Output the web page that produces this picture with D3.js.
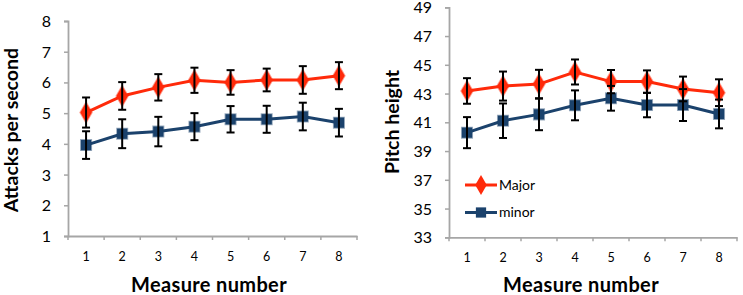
<!DOCTYPE html>
<html><head><meta charset="utf-8">
<script src="https://cdn.jsdelivr.net/npm/d3@7"></script>
<style>
html,body{margin:0;padding:0;background:#fff;}
svg{display:block;}
text{font-family:Lato,"Open Sans",sans-serif;fill:#000;}
</style></head>
<body>
<svg id="chart" width="743" height="295"></svg>
<script>
const measures = ["1","2","3","4","5","6","7","8"];
const seriesNames = ["Major","minor"];
// Left panel: attacks per second
const attacksMajor = [5.02,5.56,5.84,6.07,6.00,6.08,6.08,6.22];
const attacksMajorErr = [0.49,0.45,0.43,0.41,0.40,0.37,0.45,0.44];
const attacksMinor = [3.96,4.33,4.40,4.56,4.80,4.80,4.89,4.69];
const attacksMinorErr = [0.45,0.47,0.48,0.44,0.43,0.44,0.45,0.45];
const attacksTicks = [1,2,3,4,5,6,7,8];
// Right panel: pitch height
const pitchMajor = [43.18,43.52,43.66,44.50,43.83,43.83,43.32,43.06];
const pitchMajorErr = [0.89,1.01,0.99,0.87,0.81,0.78,0.86,0.93];
const pitchMinor = [40.28,41.11,41.55,42.18,42.67,42.20,42.20,41.58];
const pitchMinorErr = [1.08,1.20,1.10,1.04,0.86,0.85,1.11,1.00];
const pitchTicks = [33,35,37,39,41,43,45,47,49];

const colors = {Major:"#ff2a0a", minor:"#1b426c"};
const svg = d3.select("#chart");

function panel(opt){
  const g = svg.append("g");
  const x = d3.scaleBand().domain(measures).range([opt.x0, opt.x1]);
  const y = d3.scaleLinear().domain(opt.domain).range([opt.y1, opt.y0]);
  const axisColor = "#a6a6a6";
  // y axis
  const ya = g.append("g").attr("transform",`translate(${opt.x0},0)`)
    .call(d3.axisLeft(y).tickValues(opt.ticks).tickSize(4).tickPadding(13).tickFormat(d3.format("d")));
  ya.select(".domain").attr("stroke",axisColor).attr("stroke-width",1.8);
  ya.selectAll(".tick line").attr("stroke",axisColor).attr("stroke-width",1.5);
  ya.selectAll(".tick text").style("font-size","16px").style("font-family","Lato,sans-serif").attr("dy","0.34em");
  // x axis labels
  const xa = g.append("g").attr("transform",`translate(0,${opt.y1})`)
    .call(d3.axisBottom(x).tickSize(0).tickPadding(16));
  xa.select(".domain").attr("stroke",axisColor).attr("stroke-width",1.8);
  xa.selectAll(".tick text").style("font-size","12.5px").style("font-family","Lato,sans-serif");
  // x tick marks at band boundaries
  const bounds = measures.map(m=>x(m)).concat([x(measures[measures.length-1])+x.bandwidth()]);
  g.selectAll(".xb").data(bounds).join("line")
    .attr("x1",d=>d).attr("x2",d=>d).attr("y1",opt.y1).attr("y2",opt.y1+4)
    .attr("stroke",axisColor).attr("stroke-width",1.5);
  const cx = m => x(m)+x.bandwidth()/2;
  const series = [
    {name:"Major", vals:opt.major, err:opt.majorErr},
    {name:"minor", vals:opt.minor, err:opt.minorErr}
  ];
  // lines
  const line = d3.line().x((d,i)=>cx(measures[i])).y(d=>y(d));
  series.forEach(s=>{
    g.append("path").datum(s.vals).attr("d",line).attr("fill","none")
      .attr("stroke",colors[s.name]).attr("stroke-width",3);
  });
  // markers
  series.forEach(s=>{
    const sym = s.name==="Major" ? d3.symbolDiamond : d3.symbolSquare;
    const size = s.name==="Major" ? 115 : 105;
    g.selectAll(null).data(s.vals).join("path")
      .attr("transform",(d,i)=>`translate(${cx(measures[i])},${y(d)})`)
      .attr("d",d3.symbol().type(sym).size(size))
      .attr("fill",colors[s.name]).attr("stroke",colors[s.name]).attr("stroke-opacity",0.45).attr("stroke-width",1.8);
  });
  // error bars
  series.forEach(s=>{
    s.vals.forEach((v,i)=>{
      const px = cx(measures[i]);
      const t = y(v + s.err[i]), b = y(v - s.err[i]);
      g.append("line").attr("x1",px).attr("x2",px).attr("y1",t).attr("y2",b).attr("stroke","#000").attr("stroke-width",2);
      [t,b].forEach(yy=>g.append("line").attr("x1",px-4).attr("x2",px+4).attr("y1",yy).attr("y2",yy).attr("stroke","#000").attr("stroke-width",2));
    });
  });
  // titles
  g.append("text").attr("x",opt.xTitleX).attr("y",291.5).attr("text-anchor","middle")
    .style("font-size","20px").style("font-weight","bold").style("letter-spacing","0.35px").text("Measure number");
  g.append("text").attr("transform",`translate(${opt.yTitleX},${opt.yTitleY}) rotate(-90)`)
    .attr("text-anchor","middle").style("font-size","19.5px").style("font-weight","bold").text(opt.yTitle);
  return {g,x,y};
}

panel({x0:68,x1:357,y0:21,y1:236,domain:[1,8],ticks:attacksTicks,
  major:attacksMajor,majorErr:attacksMajorErr,minor:attacksMinor,minorErr:attacksMinorErr,
  xTitleX:209,yTitleX:18,yTitleY:130,yTitle:"Attacks per second"});
panel({x0:449,x1:737,y0:7.3,y1:237.3,domain:[33,49],ticks:pitchTicks,
  major:pitchMajor,majorErr:pitchMajorErr,minor:pitchMinor,minorErr:pitchMinorErr,
  xTitleX:581,yTitleX:399,yTitleY:122,yTitle:"Pitch height"});

// legend
const leg = svg.append("g");
const legY = [185,212.5];
seriesNames.forEach((n,i)=>{
  leg.append("line").attr("x1",465).attr("x2",497).attr("y1",legY[i]).attr("y2",legY[i])
    .attr("stroke",colors[n]).attr("stroke-width",3);
  leg.append("path").attr("transform",`translate(481,${legY[i]})`)
    .attr("d",d3.symbol().type(i===0?d3.symbolDiamond:d3.symbolSquare).size(i===0?115:105))
    .attr("fill",colors[n]);
  leg.append("text").attr("x",499).attr("y",legY[i]).attr("dy","0.35em")
    .style("font-size","14px").text(n);
});
</script>
</body></html>
